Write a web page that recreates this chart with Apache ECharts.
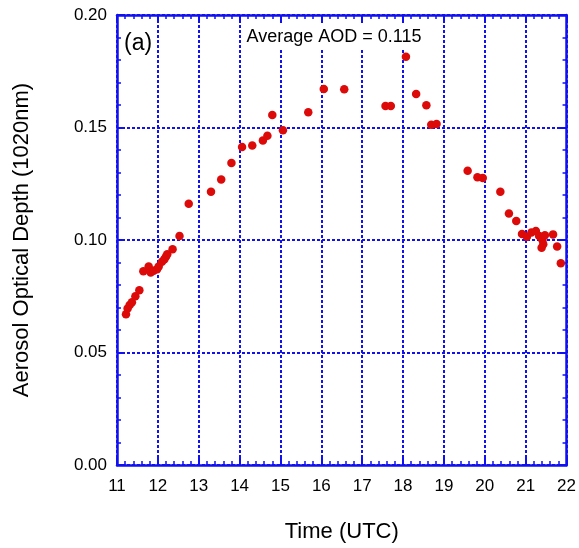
<!DOCTYPE html>
<html><head><meta charset="utf-8">
<script src="https://cdn.jsdelivr.net/npm/echarts@6/dist/echarts.min.js"></script>
<style>html,body{margin:0;padding:0;background:#fff}#c{width:579px;height:548px}</style>
</head><body><div id="c"></div>
<script>
const timeUTC = [11.22,11.26,11.31,11.365,11.45,11.547,11.645,11.775,11.824,11.897,11.98,12.02,12.10,12.16,12.20,12.23,12.36,12.53,12.755,13.30,13.55,13.80,14.06,14.31,14.57,14.68,14.80,15.06,15.68,16.06,16.56,17.57,17.70,18.07,18.32,18.57,18.69,18.82,19.58,19.82,19.95,20.38,20.59,20.77,20.91,21.03,21.14,21.25,21.33,21.41,21.39,21.43,21.47,21.67,21.77,21.86];
const aod = [0.0670,0.0696,0.0711,0.0723,0.0750,0.0777,0.0861,0.0882,0.0856,0.0863,0.0870,0.0882,0.0903,0.0915,0.0927,0.0937,0.0959,0.1018,0.1161,0.1214,0.1269,0.1342,0.1413,0.1420,0.1442,0.1463,0.1556,0.1488,0.1568,0.1671,0.1670,0.1596,0.1596,0.1814,0.1649,0.1599,0.1512,0.1516,0.1308,0.1279,0.1276,0.1214,0.1118,0.1084,0.1027,0.1015,0.1033,0.1040,0.1018,0.1000,0.0966,0.0981,0.1021,0.1025,0.0971,0.0897];
const xTicks = [11,12,13,14,15,16,17,18,19,20,21,22];
const yTicks = [0.00,0.05,0.10,0.15,0.20];
const avgText = 'Average AOD = 0.115';

const blue = '#1010f0';
const font = 'Liberation Sans, Arial, sans-serif';
const data = timeUTC.map((t,i)=>[t,aod[i]]);
const axCommon = {
  axisLine:{show:true,onZero:false,lineStyle:{color:blue,width:2.5}},
  axisTick:{show:true,inside:true,length:7,lineStyle:{color:blue,width:2}},
  minorTick:{show:true,splitNumber:5,length:4,lineStyle:{color:blue,width:1.5}},
};
const split = {show:true,lineStyle:{color:blue,width:2,type:[3,2]}};
const chart = echarts.init(document.getElementById('c'),null,{renderer:'canvas'});
chart.setOption({
  animation:false,
  backgroundColor:'#fff',
  grid:{left:117,right:10,top:15,bottom:83},
  xAxis:[
    Object.assign({type:'value',min:xTicks[0],max:xTicks[xTicks.length-1],interval:1,position:'bottom',
      name:'Time (UTC)',nameLocation:'middle',nameGap:56,nameTextStyle:{fontFamily:font,fontSize:22,color:'#000'},
      axisLabel:{color:'#000',fontFamily:font,fontSize:17,margin:13},
      splitLine:split},axCommon),
    Object.assign({type:'value',min:xTicks[0],max:xTicks[xTicks.length-1],interval:1,position:'top',
      axisLabel:{show:false},splitLine:{show:false}},axCommon)
  ],
  yAxis:[
    Object.assign({type:'value',min:yTicks[0],max:yTicks[yTicks.length-1],interval:0.05,position:'left',
      name:'Aerosol Optical Depth (1020nm)',nameLocation:'middle',nameGap:84,nameRotate:90,
      nameTextStyle:{fontFamily:font,fontSize:22,color:'#000'},
      axisLabel:{color:'#000',fontFamily:font,fontSize:17,margin:10,formatter:v=>v.toFixed(2)},
      splitLine:split},axCommon),
    Object.assign({type:'value',min:yTicks[0],max:yTicks[yTicks.length-1],interval:0.05,position:'right',
      axisLabel:{show:false},splitLine:{show:false}},axCommon)
  ],
  graphic:[
    {type:'text',z:10,style:{text:avgText,x:334,y:37,fill:'#000',font:'18px '+font,align:'center',verticalAlign:'middle',
      backgroundColor:'#fff',padding:[7,3,1,3]}},
    {type:'text',z:10,style:{text:'(a)',x:124,y:44,fill:'#000',font:'23px '+font,verticalAlign:'middle'}}
  ],
  series:[{type:'scatter',data:data,symbol:'circle',symbolSize:8.5,itemStyle:{color:'#dd0a0a',opacity:1},z:5}]
});
</script></body></html>
